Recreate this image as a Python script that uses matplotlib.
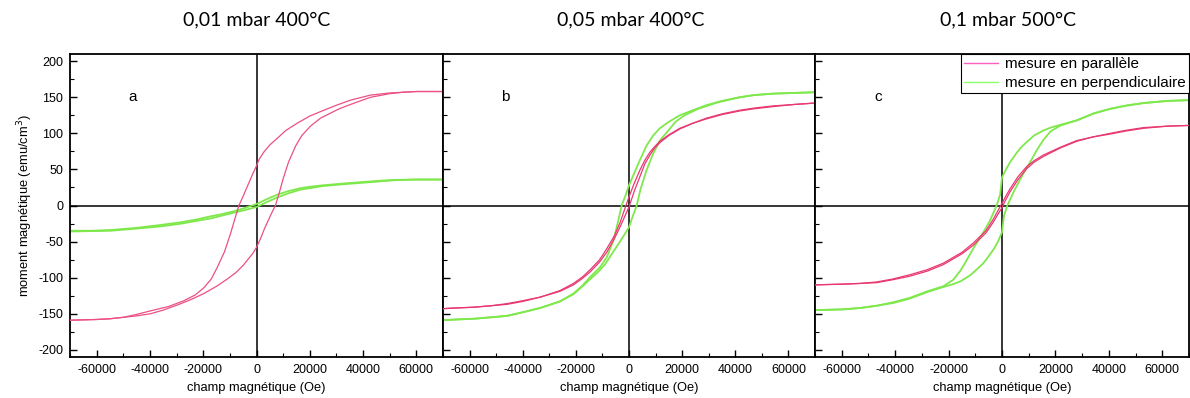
import matplotlib
matplotlib.use("Agg")
import matplotlib.pyplot as plt
from matplotlib.ticker import MultipleLocator
from matplotlib.lines import Line2D

plt.rcParams['font.family'] = ['Liberation Sans', 'DejaVu Sans']

titles = ["0,01 mbar 400°C", "0,05 mbar 400°C", "0,1 mbar 500°C"]
panel_labels = ["a", "b", "c"]
legend_labels = ["mesure en parallèle", "mesure en perpendiculaire"]
xlabel = "champ magnétique (Oe)"
ylabel = "moment magnétique (emu/cm$^3$)"
x_ticks = [-60000, -40000, -20000, 0, 20000, 40000, 60000]
y_ticks = [-200, -150, -100, -50, 0, 50, 100, 150, 200]

# ---- panel a (0,01 mbar 400°C) ----
a_par_desc_H = [70000, 60000, 55000, 50000, 42750, 35250, 30000, 25250, 20000, 15250, 11000, 7750, 5000, 2750, 1000, 0, -1500, -3500, -5000, -6600, -8000, -9750, -12000, -14750, -17000, -19750, -23000, -27250, -33000, -39750, -45000, -50000, -55000, -60000, -70000]
a_par_desc_M = [158, 158, 157, 156, 153, 146, 139, 132, 124, 114, 104, 93, 84, 74, 64, 55, 43, 26, 13, 0, -17, -39, -64, -86, -102, -114, -124, -132, -140, -146, -151, -155, -157, -158, -159]
a_par_asc_H = [-70000, -60000, -55000, -50000, -45000, -39750, -35000, -29750, -25000, -19750, -15000, -11000, -7750, -5000, -3500, -1500, 0, 1500, 3000, 4500, 6000, 7100, 8500, 10000, 12000, 14750, 17000, 20250, 24000, 27750, 31000, 35250, 42750, 50000, 55000, 60000, 70000]
a_par_asc_M = [-159, -158, -157, -155, -153, -150, -145, -138, -131, -122, -112, -102, -93, -83, -76, -67, -58, -46, -32, -20, -8, 0, 17, 37, 60, 83, 97, 110, 121, 128, 134, 140, 150, 155, 157, 158, 158]
a_perp_desc_H = [70000, 60000, 51500, 45000, 38000, 32750, 25000, 20000, 16500, 12000, 7750, 4000, 0, -4000, -8500, -13000, -17250, -22000, -28000, -36000, -45000, -54750, -62000, -70000]
a_perp_desc_M = [36, 36, 35.5, 34, 32, 30.5, 28, 26, 24, 20, 15, 9, 2, -3, -8, -12, -15, -19, -23, -27, -31, -34, -35, -35]
a_perp_asc_H = [-70000, -62000, -54750, -45000, -36000, -28000, -22000, -17250, -13000, -8500, -4000, 0, 4000, 7750, 12000, 16500, 20000, 25000, 32750, 38000, 45000, 51500, 60000, 70000]
a_perp_asc_M = [-36, -35.5, -35, -32, -29, -25, -21, -18, -14, -10, -6, -2, 5, 11, 17, 22, 24, 27, 29.5, 31, 33, 35, 36, 36]

# ---- panel b (0,05 mbar 400°C) ----
b_par_desc_H = [70000, 62000, 54000, 47000, 41600, 35000, 29100, 24000, 19100, 15000, 11600, 9500, 7900, 6000, 4100, 2000, 0, -1700, -3400, -5500, -8400, -11000, -14600, -17500, -20900, -26000, -33400, -40000, -45900, -52000, -58400, -65000, -70000]
b_par_desc_M = [142, 140, 138, 135, 132, 127, 121, 114, 107, 98, 89, 81, 74, 63, 49, 31, 12, -6, -24, -42, -60, -75, -89, -99, -108, -118, -127, -132, -136, -139, -141, -142, -143]
b_par_asc_H = [-70000, -65000, -58400, -52000, -45900, -40000, -33400, -26000, -20900, -17500, -14600, -11000, -8400, -5500, -3400, -1700, 0, 2000, 4100, 6000, 7900, 9500, 11600, 15000, 19100, 24000, 29100, 35000, 41600, 47000, 54000, 62000, 70000]
b_par_asc_M = [-143, -142, -141, -139, -137, -133, -127, -119, -110, -101, -92, -78, -65, -46, -30, -16, -2, 20, 40, 58, 70, 79, 87, 97, 106, 114, 120, 126, 131, 134, 137, 140, 142]
b_perp_desc_H = [70000, 62000, 54000, 47000, 41600, 35000, 29100, 24000, 19100, 15000, 11600, 9100, 6600, 4100, 2000, 0, -1500, -2750, -4300, -5900, -8400, -11000, -14600, -17500, -20900, -26000, -33400, -40000, -45900, -52000, -58400, -65000, -70000]
b_perp_desc_M = [157, 156, 155, 153, 150, 145, 139, 132, 125, 116, 107, 97, 83, 63, 45, 28, 12, 0, -25, -49, -72, -86, -99, -111, -122, -133, -142, -148, -153, -155, -157, -158, -159]
b_perp_asc_H = [-70000, -65000, -58400, -52000, -45900, -40000, -33400, -26000, -20900, -17500, -14600, -11600, -9100, -6600, -4100, -2000, 0, 1500, 2900, 4300, 6600, 9100, 11600, 14600, 17500, 20900, 26000, 33400, 41600, 47000, 54000, 62000, 70000]
b_perp_asc_M = [-159, -158, -157, -155, -153, -148, -142, -133, -123, -112, -102, -92, -82, -68, -54, -42, -30, -14, 0, 22, 49, 72, 90, 103, 116, 125, 134, 143, 150, 153, 155, 156, 157]

# ---- panel c (0,1 mbar 500°C) ----
c_par_desc_H = [70000, 62000, 53000, 46000, 40500, 34000, 28000, 22000, 15500, 12000, 9250, 6000, 3000, 1000, 0, -1500, -3250, -6000, -10750, -15000, -22000, -28000, -34500, -41000, -47000, -53000, -59500, -70000]
c_par_desc_M = [111, 110, 108, 104, 100, 95, 90, 81, 70, 62, 54, 40, 23, 10, 3, -7, -19, -35, -52, -65, -80, -89, -96, -102, -106, -108, -109, -110]
c_par_asc_H = [-70000, -59500, -53000, -47000, -41000, -34500, -28000, -22000, -15000, -10750, -6000, -3250, -1500, 0, 1000, 3000, 6000, 9250, 12000, 15500, 22000, 28000, 34000, 40500, 46000, 53000, 62000, 70000]
c_par_asc_M = [-110, -109, -108, -107, -103, -98, -91, -82, -67, -55, -38, -23, -12, -3, 5, 19, 36, 51, 60, 68, 80, 89, 95, 99, 103, 107, 110, 111]
c_perp_desc_H = [70000, 62000, 53000, 46000, 40500, 34000, 28000, 22000, 18250, 15500, 12000, 9250, 7000, 5500, 3000, 1500, 0, -700, -2000, -4500, -6500, -8250, -10500, -13250, -15500, -18250, -22000, -28000, -34500, -40500, -47000, -53000, -59500, -70000]
c_perp_desc_M = [146, 145, 142, 138, 134, 127, 118, 112, 108, 104, 97, 88, 80, 73, 60, 50, 39, 15, 0, -21, -34, -45, -58, -76, -90, -103, -112, -119, -128, -134, -139, -142, -144, -145]
c_perp_asc_H = [-70000, -59500, -53000, -47000, -40500, -34500, -28000, -22000, -18250, -15500, -12000, -9250, -7000, -5500, -3000, -1500, 0, 700, 2000, 4500, 6500, 8250, 10500, 13250, 15500, 18250, 22000, 28000, 34500, 40500, 47000, 53000, 62000, 70000]
c_perp_asc_M = [-145, -144, -142, -139, -135, -129, -120, -113, -109, -105, -97, -88, -80, -73, -60, -50, -37, -15, 0, 20, 34, 46, 60, 78, 91, 103, 111, 118, 128, 134, 139, 142, 145, 146]

panels = [
    [(a_par_desc_H, a_par_desc_M), (a_par_asc_H, a_par_asc_M), (a_perp_desc_H, a_perp_desc_M), (a_perp_asc_H, a_perp_asc_M)],
    [(b_par_desc_H, b_par_desc_M), (b_par_asc_H, b_par_asc_M), (b_perp_desc_H, b_perp_desc_M), (b_perp_asc_H, b_perp_asc_M)],
    [(c_par_desc_H, c_par_desc_M), (c_par_asc_H, c_par_asc_M), (c_perp_desc_H, c_perp_desc_M), (c_perp_asc_H, c_perp_asc_M)],
]

red_colors = ['#ec4f84', '#e8386f', '#e8386f']
green = '#7fe84c'

W, H = 1190, 398
fig = plt.figure(figsize=(W / 100, H / 100), dpi=100)

boxes = [(70, 443), (443, 815), (815, 1189)]
top_px, bot_px = 54, 357
title_x = [257, 631, 1008]

for i, (x0, x1) in enumerate(boxes):
    ax = fig.add_axes([x0 / W, 1 - bot_px / H, (x1 - x0) / W, (bot_px - top_px) / H])
    ax.set_xlim(-70000, 70000)
    ax.set_ylim(-210, 210)
    ax.axhline(0, color='black', lw=1.1, zorder=1)
    ax.axvline(0, color='black', lw=1.1, zorder=1)
    d = panels[i]
    for (hh, mm) in d[2:]:
        ax.plot(hh, mm, color=green, lw=1.3, zorder=2, solid_joinstyle='round')
    for (hh, mm) in d[:2]:
        ax.plot(hh, mm, color=red_colors[i], lw=0.9, zorder=3, solid_joinstyle='round')
    ax.xaxis.set_minor_locator(MultipleLocator(10000))
    ax.yaxis.set_minor_locator(MultipleLocator(25))
    ax.tick_params(which='both', direction='in', top=False, right=False, colors='black')
    ax.tick_params(which='major', length=5, width=1.0, labelsize=9, pad=5)
    ax.tick_params(which='minor', length=3, width=0.8)
    ax.set_xticks(x_ticks)
    ax.set_xticklabels([str(v) for v in x_ticks])
    ax.set_yticks(y_ticks)
    if i == 0:
        ax.set_yticklabels([str(v) for v in y_ticks])
        ax.set_ylabel(ylabel, fontsize=9.3, labelpad=2)
    else:
        ax.tick_params(axis='y', labelleft=False)
    ax.set_xlabel(xlabel, fontsize=9.3, labelpad=4)
    for s in ax.spines.values():
        s.set_linewidth(1.3)
        s.set_color('black')
    ax.text(-46500, 150, panel_labels[i], fontsize=11, ha='center', va='center')
    fig.text(title_x[i] / W, 1 - 20 / H, titles[i], fontsize=14, ha='center', va='center',
             family=['Lato', 'DejaVu Sans'])
    if i == 2:
        handles = [Line2D([], [], color='#ff5cc0', lw=1.0), Line2D([], [], color='#8cff66', lw=1.0)]
        leg = ax.legend(handles, legend_labels, loc='upper right', fontsize=11,
                        frameon=True, fancybox=False, framealpha=1, edgecolor='black',
                        borderaxespad=0, handlelength=2.2, borderpad=0.22,
                        labelspacing=0.3, handletextpad=0.45)
        leg.get_frame().set_linewidth(0.8)

fig.savefig('out.png', dpi=100)
